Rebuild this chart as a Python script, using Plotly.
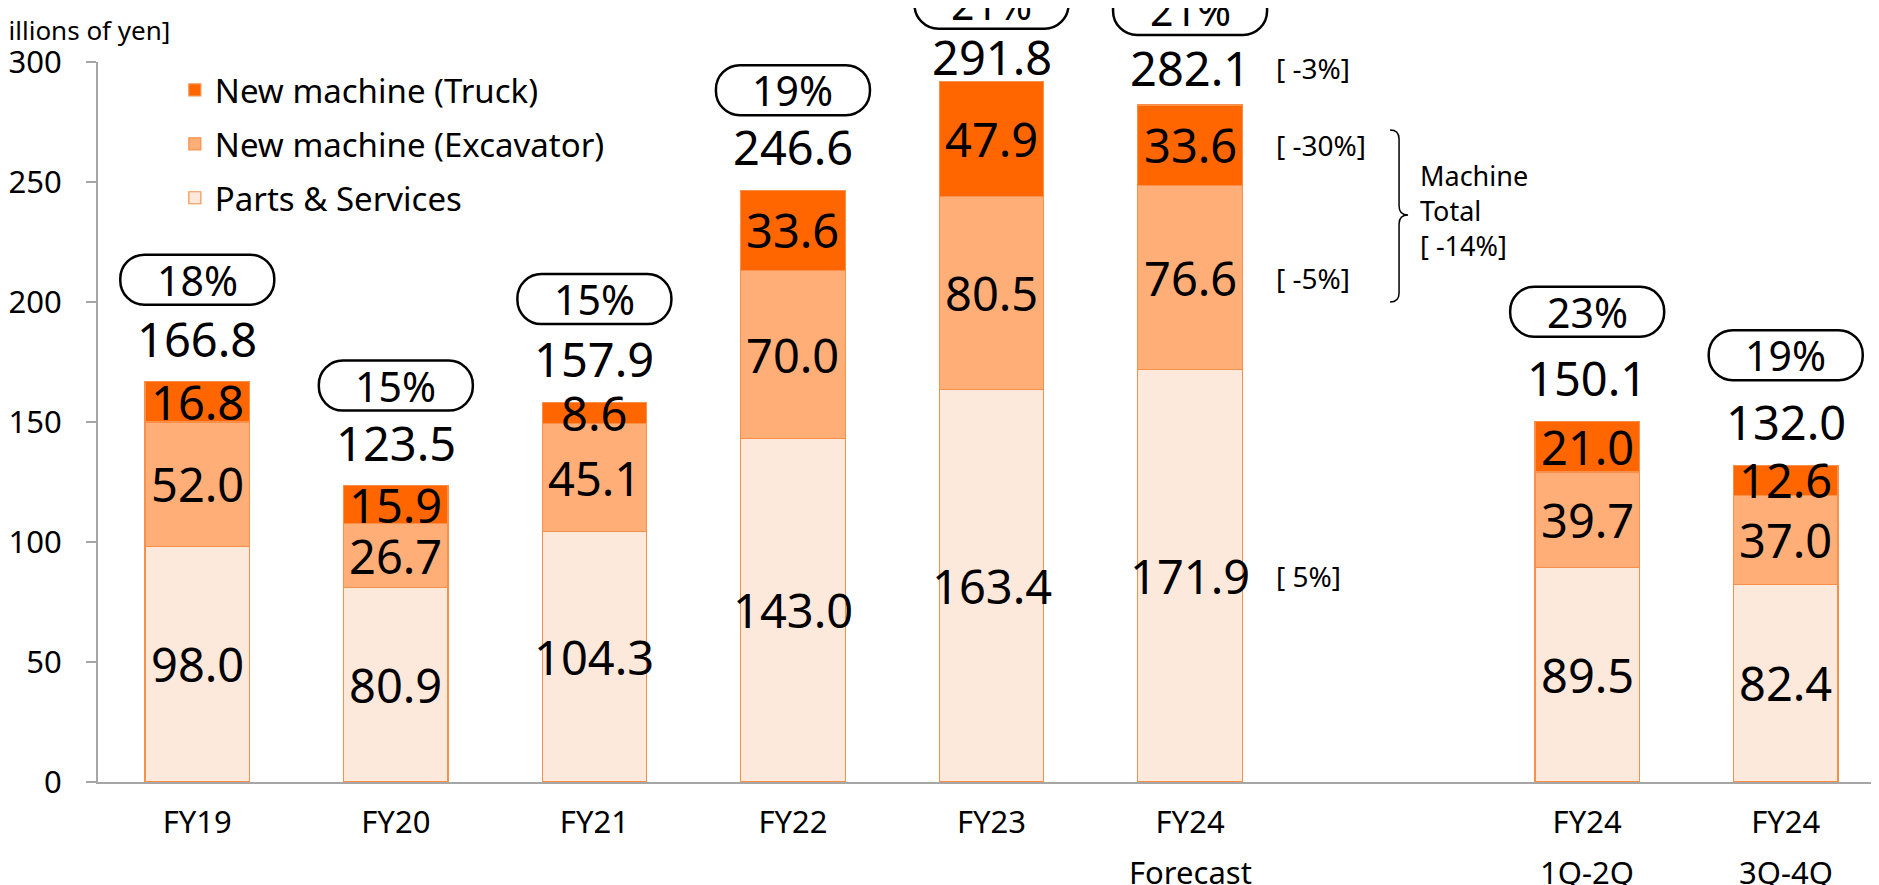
import plotly.graph_objects as go

# ---------------- data ----------------
categories = ["FY19", "FY20", "FY21", "FY22", "FY23", "FY24 Forecast", "gap", "FY24 1Q-2Q", "FY24 3Q-4Q"]
tick_main = ["FY19", "FY20", "FY21", "FY22", "FY23", "FY24", "", "FY24", "FY24"]
tick_sub = ["", "", "", "", "", "Forecast", "", "1Q-2Q", "3Q-4Q"]

parts = [98.0, 80.9, 104.3, 143.0, 163.4, 171.9, None, 89.5, 82.4]
excavator = [52.0, 26.7, 45.1, 70.0, 80.5, 76.6, None, 39.7, 37.0]
truck = [16.8, 15.9, 8.6, 33.6, 47.9, 33.6, None, 21.0, 12.6]
totals = [166.8, 123.5, 157.9, 246.6, 291.8, 282.1, None, 150.1, 132.0]
share = ["18%", "15%", "15%", "19%", "21%", "21%", None, "23%", "19%"]

fy24_change_total = "[ -3%]"
fy24_change_segments = ["[ 5%]", "[ -5%]", "[ -30%]"]   # parts, excavator, truck
machine_total_note = "Machine<br>Total<br>[ -14%]"
unit_label = "[billions of yen]"

# ---------------- styles ----------------
FONT = "Noto Sans"
C_TRUCK = "#FF6600"
C_EXC = "#FFAE78"
C_PARTS = "#FDE9DB"
C_EDGE = "#F9904A"
AXIS_C = "#A6A6A6"

total_shift = [43, 43, 44, 43, 25, 37, 0, 44, 43]
pill_shift = [102, 100, 104, 100, 78, 95, 0, 110, 110]
PILL_W, PILL_H, PILL_R = 154, 50, 24
Y_MAX = 300
VAL_SIZE = 47

fig = go.Figure()
series = [("Parts & Services", parts, C_PARTS, 3),
          ("New machine (Excavator)", excavator, C_EXC, 2),
          ("New machine (Truck)", truck, C_TRUCK, 1)]
for name, vals, col, rank in series:
    fig.add_trace(go.Bar(
        x=categories, y=vals, name=name, legendgroup=name, legendrank=rank,
        marker=dict(color=col, line=dict(color=C_EDGE, width=1.2)),
        hoverinfo="skip",
    ))

annotations = []
shapes = []
n = len(categories)

def rounded_rect(cx, cy, w, h, r):
    k = 0.5523 * r
    x0, x1 = cx - w / 2, cx + w / 2
    y0, y1 = cy - h / 2, cy + h / 2
    return (f"M{x0+r},{y0} L{x1-r},{y0} C{x1-r+k},{y0} {x1},{y0+r-k} {x1},{y0+r} "
            f"L{x1},{y1-r} C{x1},{y1-r+k} {x1-r+k},{y1} {x1-r},{y1} "
            f"L{x0+r},{y1} C{x0+r-k},{y1} {x0},{y1-r+k} {x0},{y1-r} "
            f"L{x0},{y0+r} C{x0},{y0+r-k} {x0+r-k},{y0} {x0+r},{y0} Z")

for i, cat in enumerate(categories):
    if totals[i] is None:
        continue
    base = 0.0
    for _, vals, _, _ in series:
        v = vals[i]
        annotations.append(dict(x=cat, y=base + v / 2, xref="x", yref="y", text=f"{v:.1f}",
                                showarrow=False, font=dict(size=VAL_SIZE, color="black", family=FONT),
                                yanchor="middle"))
        base += v
    annotations.append(dict(x=cat, y=totals[i], xref="x", yref="y", text=f"{totals[i]:.1f}",
                            showarrow=False, yshift=total_shift[i], yanchor="middle",
                            font=dict(size=VAL_SIZE, color="black", family=FONT)))
    annotations.append(dict(x=cat, y=totals[i], xref="x", yref="y", text=share[i],
                            showarrow=False, yshift=pill_shift[i], yanchor="middle",
                            font=dict(size=41, color="black", family=FONT)))
    shapes.append(dict(type="path", xref="x domain", yref="y domain",
                       xsizemode="pixel", ysizemode="pixel",
                       xanchor=(i + 0.5) / n, yanchor=totals[i] / Y_MAX,
                       path=rounded_rect(0, pill_shift[i], PILL_W, PILL_H, PILL_R),
                       line=dict(color="black", width=2.5), fillcolor="rgba(0,0,0,0)"))
    if tick_sub[i]:
        annotations.append(dict(x=cat, y=0, xref="x", yref="paper", text=tick_sub[i],
                                showarrow=False, yshift=-90, yanchor="middle",
                                font=dict(size=31, color="black", family=FONT)))

# FY24 change notes
fi = 5
fcat = categories[fi]
annotations.append(dict(x=fcat, y=totals[fi], xref="x", yref="y", text=fy24_change_total,
                        showarrow=False, xanchor="left", xshift=84, yshift=total_shift[fi],
                        yanchor="middle", font=dict(size=28, color="black", family=FONT)))
base = 0.0
for (_, vals, _, _), note in zip(series, fy24_change_segments):
    v = vals[fi]
    annotations.append(dict(x=fcat, y=base + v / 2, xref="x", yref="y", text=note,
                            showarrow=False, xanchor="left", xshift=84, yanchor="middle",
                            font=dict(size=28, color="black", family=FONT)))
    base += v

# brace (pixel path anchored at FY24 slot, axis bottom)
bx, btop, bh, bt = 200, 652, 172, 85
def bp(x, y):
    return f"{bx + x},{btop - y}"
brace = (f"M{bp(0,0)} Q{bp(9,0)} {bp(9,9)} L{bp(9,bt-9)} Q{bp(9,bt)} {bp(18,bt)} "
         f"Q{bp(9,bt)} {bp(9,bt+9)} L{bp(9,bh-9)} Q{bp(9,bh)} {bp(0,bh)}")
shapes.append(dict(type="path", xref="x domain", yref="y domain", xsizemode="pixel",
                   ysizemode="pixel", xanchor=(fi + 0.5) / n, yanchor=0, path=brace,
                   line=dict(color="black", width=1.5)))
annotations.append(dict(x=(fi + 0.5) / n, y=0, xref="x domain", yref="y domain",
                        text=machine_total_note, showarrow=False, xanchor="left",
                        xshift=228, yshift=572, yanchor="middle", align="left",
                        font=dict(size=27, color="black", family=FONT)))

# unit label
annotations.append(dict(x=0, y=1, xref="paper", yref="paper", text=unit_label,
                        showarrow=False, xanchor="right", xshift=74, yshift=32,
                        yanchor="middle", font=dict(size=26, color="black", family=FONT)))

fig.update_layout(
    width=1879, height=885,
    barmode="stack", bargap=0.474,
    plot_bgcolor="white", paper_bgcolor="white",
    margin=dict(l=90, r=2, t=54, b=111),
    font=dict(family=FONT, color="black"),
    showlegend=True,
    legend=dict(x=0.043, y=1.0, xanchor="left", yanchor="top",
                traceorder="grouped", tracegroupgap=8,
                font=dict(size=33, family=FONT), bgcolor="rgba(0,0,0,0)"),
    annotations=annotations, shapes=shapes,
)
fig.update_xaxes(type="category", categoryorder="array", categoryarray=categories,
                 tickvals=categories, ticktext=tick_main, range=[-0.5, n - 0.5],
                 showline=True, linecolor=AXIS_C, linewidth=2, ticks="",
                 tickfont=dict(size=31, family=FONT), ticklabelstandoff=12,
                 showgrid=False, zeroline=False)
fig.update_yaxes(range=[0, Y_MAX], tickvals=list(range(0, 301, 50)),
                 showline=True, linecolor=AXIS_C, linewidth=2,
                 ticks="outside", ticklen=10, tickwidth=2, tickcolor=AXIS_C,
                 tickfont=dict(size=31, family=FONT), ticklabelstandoff=18,
                 showgrid=False, zeroline=False)

fig.write_html("out.html")
